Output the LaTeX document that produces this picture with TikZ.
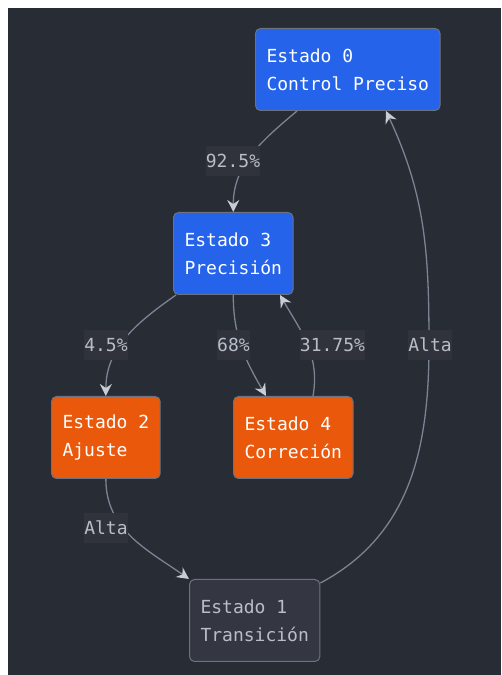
\documentclass[tikz,border=0pt]{standalone}
\usepackage{fontspec}
\setmonofont{DejaVu Sans Mono}
\usepackage{tikz}
\usetikzlibrary{arrows.meta, calc}
\usepackage{xcolor}
\definecolor{mmbg}{HTML}{282C34}
\definecolor{mmblue}{HTML}{2563EB}
\definecolor{mmorange}{HTML}{EA580C}
\definecolor{mmgrey}{HTML}{343741}
\definecolor{mmborder}{HTML}{6B7280}
\definecolor{mmedge}{HTML}{7B8394}
\definecolor{mmtip}{HTML}{C8CCD4}
\definecolor{mmlabelbg}{HTML}{30333C}
\definecolor{mmtext}{HTML}{B8BEC9}

\begin{document}
\begin{tikzpicture}[x=1pt, y=1pt,
    estado/.style={draw=mmborder, line width=1pt, rounded corners=5pt, inner xsep=11pt,
                   minimum height=82pt, anchor=north west, align=left,
                   font=\ttfamily\fontsize{18}{28}\selectfont},
    azul/.style={estado, fill=mmblue, text=white},
    naranja/.style={estado, fill=mmorange, text=white},
    gris/.style={estado, fill=mmgrey, text=mmtext},
    etiqueta/.style={fill=mmlabelbg, text=mmtext, inner xsep=0pt, inner ysep=0pt,
                     minimum height=30pt, font=\ttfamily\fontsize{18}{28}\selectfont},
    flecha/.style={mmedge, line width=1.3pt,
                   -{Stealth[length=12pt, width=12pt, inset=4pt, color=mmtip]}}]
    \useasboundingbox (0,0) rectangle (501,675);
    \fill[mmbg] (8,0) rectangle (501,667);

    \node[azul] (e0) at (255,647) {Estado 0\\Control Preciso};
    \node[azul] (e3) at (173,463) {Estado 3\\Precisión};
    \node[naranja] (e2) at (51,279) {Estado 2\\Ajuste};
    \node[naranja] (e4) at (233,279) {Estado 4\\Correción};
    \node[gris] (e1) at (189,96) {Estado 1\\Transición};

    % transiciones
    \coordinate (retorno) at (429,330);
    \draw[flecha] ([xshift=42pt]e0.south west) to[out=-140, in=90] (e3.north);
    \draw[flecha] ([xshift=3pt]e3.south west) to[out=-145, in=90] (e2.north);
    \draw[flecha] (e3.south) to[out=-90, in=120] ([xshift=33pt]e4.north west);
    \draw[flecha] ([xshift=80pt]e4.north west) to[out=80, in=-60] ([xshift=107pt]e3.south west);
    \draw[flecha] (e2.south) to[out=-90, in=145] (e1.north west);
    \draw[flecha] ([yshift=-4pt]e1.north east) to[out=28, in=-90] (retorno)
        to[out=90, in=-65] ([xshift=131pt]e0.south west);

    \node[etiqueta] (p925) at (233,514) {92.5\%};
    \node[etiqueta] (p45) at (106,330) {4.5\%};
    \node[etiqueta] (p68) at (233.5,330) {68\%};
    \node[etiqueta] (p3175) at (332.5,330) {31.75\%};
    \node[etiqueta] (alta1) at (430,330) {Alta};
    \node[etiqueta] (alta2) at (106,147) {Alta};
\end{tikzpicture}
\end{document}
